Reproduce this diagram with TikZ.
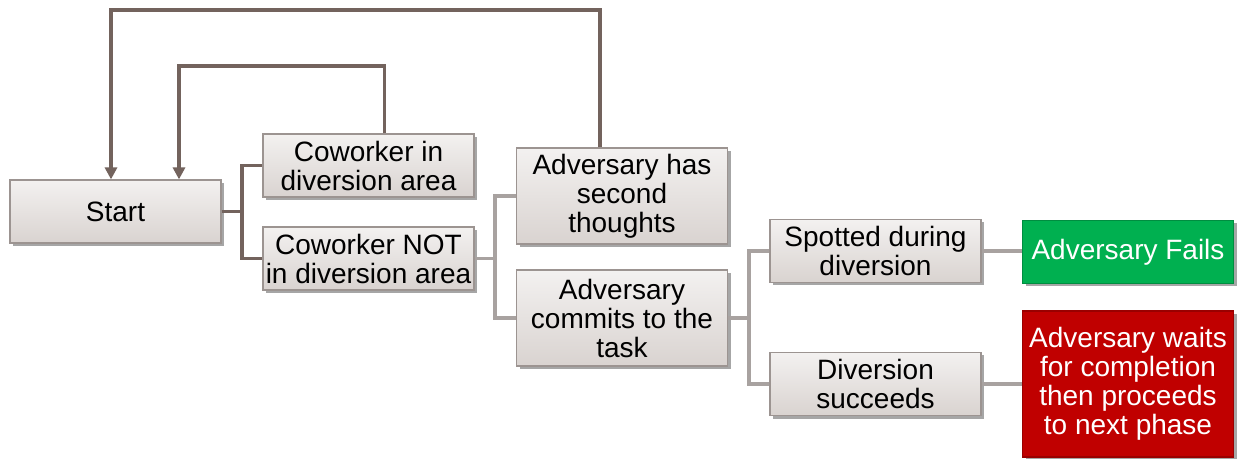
\documentclass[tikz,border=0pt]{standalone}
\usepackage{fontspec}
\setmainfont{Liberation Sans}
\usetikzlibrary{shadows,arrows.meta,calc}
\definecolor{brownline}{HTML}{73635D}
\definecolor{greyline}{HTML}{A8A2A0}
\definecolor{boxborder}{HTML}{9C9491}
\definecolor{okgreen}{HTML}{00B050}
\definecolor{badred}{HTML}{C00000}
\definecolor{boxtop}{HTML}{F3F1F0}
\definecolor{boxbottom}{HTML}{D9D3D0}
\tikzset{
  box/.style={draw=boxborder, line width=0.6pt, top color=boxtop, bottom color=boxbottom,
    minimum width=105.5pt, minimum height=31.5pt, align=center, inner sep=1pt,
    font=\fontsize{14}{14.5}\selectfont, text=black,
    drop shadow={shadow xshift=1.5pt, shadow yshift=-1.5pt, opacity=0.35, fill=black}},
  tallbox/.style={box, minimum height=48pt},
  greenbox/.style={box, top color=okgreen, bottom color=okgreen, fill=okgreen, text=white, draw=okgreen!80!black},
  redbox/.style={box, top color=badred, bottom color=badred, fill=badred, text=white, draw=badred!80!black, minimum height=73pt},
  dark/.style={draw=brownline, line width=1.6pt},
  light/.style={draw=greyline, line width=1.6pt},
  fb/.style={dark, -{Triangle[width=6pt,length=6pt]}},
}
\begin{document}
\begin{tikzpicture}[x=0.5pt,y=-0.5pt]
\useasboundingbox[fill=white] (0,0) rectangle (1241,459);
% nodes
\node[box] (start) at (115.5,211.5) {Start};
\node[box] (cin) at (368.5,165.5) {Coworker in\\diversion area};
\node[box] (cnot) at (368.5,258.5) {Coworker NOT\\in diversion area};
\node[tallbox] (second) at (622,196) {Adversary has\\second\\thoughts};
\node[tallbox] (commit) at (622,318) {Adversary\\commits to the\\task};
\node[box] (spot) at (875.5,251) {Spotted during\\diversion};
\node[box] (succ) at (875.5,384) {Diversion\\succeeds};
\node[greenbox] (fail) at (1128,252) {Adversary Fails};
\node[redbox] (wait) at (1128,384) {Adversary waits\\for completion\\then proceeds\\to next phase};
% junction coordinates
\coordinate (j1) at (242,0);
\coordinate (j2) at (495,0);
\coordinate (j3) at (749,0);
\coordinate (t1) at (0,66);
\coordinate (t2) at (0,10);
% tree connectors
\draw[dark] (start.east) -- (start.east -| j1) |- (cin.west);
\draw[dark] (start.east -| j1) |- (cnot.west);
\draw[light] (cnot.east) -- (cnot.east -| j2) |- (second.west);
\draw[light] (cnot.east -| j2) |- (commit.west);
\draw[light] (commit.east) -- (commit.east -| j3) |- (spot.west);
\draw[light] (commit.east -| j3) |- (succ.west);
\draw[light] (spot.east) -- (fail.west |- spot.east);
\draw[light] (succ.east) -- (wait.west);
% feedback arrows
\draw[fb] ([xshift=8pt]cin.north) -- ([xshift=8pt]cin.north |- t1) -| ([xshift=31.75pt]start.north);
\draw[fb] ([xshift=-11pt]second.north) -- ([xshift=-11pt]second.north |- t2) -| ([xshift=-2.25pt]start.north);
\end{tikzpicture}
\end{document}
